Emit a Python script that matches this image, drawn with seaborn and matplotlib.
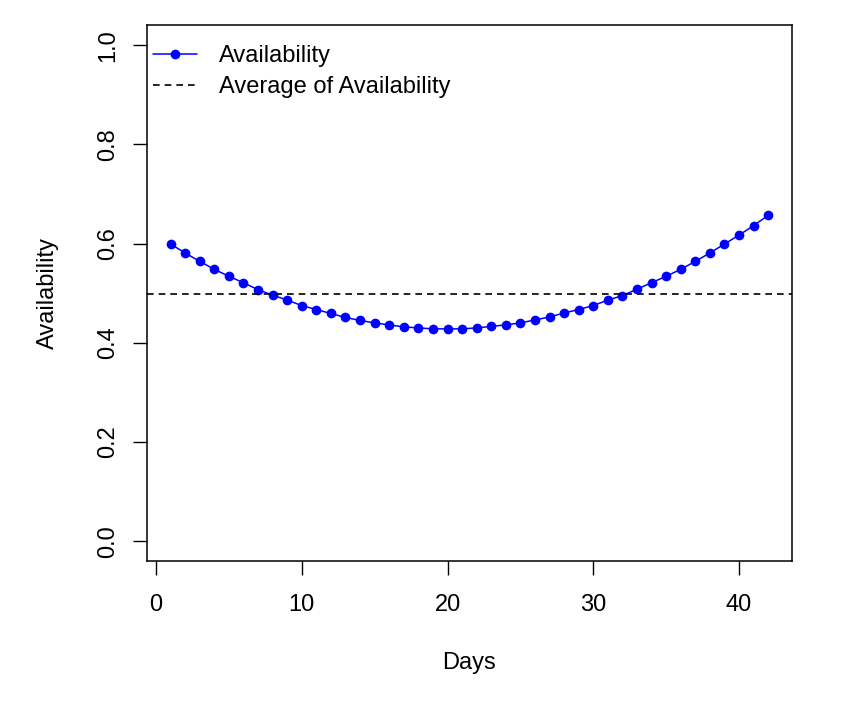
import numpy as np
import pandas as pd
import matplotlib
matplotlib.use("Agg")
import matplotlib.pyplot as plt
import seaborn as sns
from matplotlib.lines import Line2D

days = list(range(1, 43))
availability = [0.599, 0.581, 0.564, 0.548, 0.534, 0.521, 0.507, 0.496, 0.486, 0.475,
                0.467, 0.459, 0.451, 0.445, 0.440, 0.436, 0.432, 0.430, 0.428, 0.428,
                0.428, 0.430, 0.433, 0.436, 0.440, 0.446, 0.452, 0.460, 0.467, 0.475,
                0.486, 0.495, 0.508, 0.521, 0.534, 0.548, 0.564, 0.581, 0.599, 0.617,
                0.636, 0.657]
x_ticks = [0, 10, 20, 30, 40]
y_ticks = [0.0, 0.2, 0.4, 0.6, 0.8, 1.0]
y_tick_labels = ["0.0", "0.2", "0.4", "0.6", "0.8", "1.0"]

sns.set_style("white")
plt.rcParams["font.family"] = ["Liberation Sans", "DejaVu Sans"]
FS = 17

df = pd.DataFrame({"Days": days, "Availability": availability})
avg = float(np.mean(availability))

fig = plt.figure(figsize=(8.48, 7.01), dpi=100)
ax = fig.add_axes([0.173, 0.1997, 0.761, 0.7642])

MS = 7.0
sns.lineplot(data=df, x="Days", y="Availability", ax=ax, color="blue",
             marker="o", markersize=MS, markeredgewidth=0, linewidth=1.1)
ax.axhline(avg, color="black", linestyle=(0, (4, 3)), linewidth=1.2)

ax.set_xlim(1 - 0.04 * 41, 42 + 0.04 * 41)
ax.set_ylim(-0.04, 1.04)
ax.set_xticks(x_ticks)
ax.set_xticklabels([str(t) for t in x_ticks])
ax.set_yticks(y_ticks)
ax.set_yticklabels(y_tick_labels, rotation=90, va="center")
ax.tick_params(axis="both", which="major", bottom=True, left=True, top=False, right=False,
               direction="out", length=10, width=1.0, color="black",
               labelsize=FS, labelcolor="black")
ax.tick_params(axis="x", pad=14)
ax.tick_params(axis="y", pad=10)
for s in ax.spines.values():
    s.set_visible(True)
    s.set_color("black")
    s.set_linewidth(1.1)

ax.set_xlabel("Days", fontsize=FS, va="center", color="black")
ax.xaxis.set_label_coords(0.5, -0.1905)
ax.set_ylabel("Availability", fontsize=FS, va="center", color="black")
ax.yaxis.set_label_coords(-0.1525, 0.5)

handles = [
    Line2D([], [], color="blue", marker="o", markersize=MS, markeredgewidth=0, linewidth=1.1),
    Line2D([], [], color="black", linestyle=(0, (4, 3)), linewidth=1.2),
]
leg = ax.legend(handles, ["Availability", "Average of Availability"], loc="upper left",
                bbox_to_anchor=(0, 0.976), frameon=False, fontsize=FS, handlelength=1.85,
                handletextpad=0.95, borderaxespad=0.0, borderpad=0.28, labelspacing=0.4)
for t in leg.get_texts():
    t.set_color("black")

fig.savefig("out.png", dpi=100, facecolor="white")
